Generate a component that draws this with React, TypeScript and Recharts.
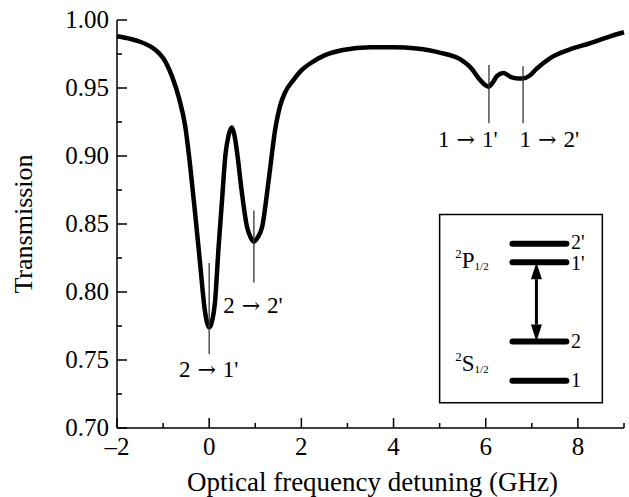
import React from "react";
import { LineChart, Line, XAxis, YAxis, ReferenceLine, ReferenceArea, ReferenceDot } from "recharts";

// detuning (GHz) and transmission
const freq = [-2.0, -1.7, -1.5, -1.25, -1.1, -1.0, -0.9, -0.8, -0.65, -0.52, -0.41, -0.3, -0.2, -0.1, -0.05, 0, 0.05, 0.13, 0.2, 0.28, 0.35, 0.42, 0.49, 0.55, 0.6, 0.71, 0.82, 0.9, 0.97, 1.05, 1.15, 1.29, 1.43, 1.54, 1.65, 1.83, 2.0, 2.19, 2.5, 2.9, 3.5, 4.0, 4.5, 5.0, 5.45, 5.7, 5.85, 6.0, 6.06, 6.15, 6.25, 6.39, 6.55, 6.7, 6.8, 6.95, 7.1, 7.4, 7.8, 8.27, 8.7, 9.0];
const trans = [0.988, 0.986, 0.984, 0.98, 0.976, 0.972, 0.966, 0.958, 0.942, 0.922, 0.892, 0.856, 0.822, 0.788, 0.778, 0.774, 0.777, 0.794, 0.831, 0.868, 0.9, 0.915, 0.921, 0.915, 0.904, 0.873, 0.848, 0.84, 0.837, 0.84, 0.848, 0.882, 0.919, 0.937, 0.947, 0.956, 0.963, 0.968, 0.974, 0.978, 0.98, 0.98, 0.979, 0.976, 0.971, 0.964, 0.957, 0.952, 0.951, 0.954, 0.959, 0.961, 0.958, 0.957, 0.957, 0.959, 0.964, 0.972, 0.978, 0.983, 0.988, 0.991];

const xTicks = [-2, -1, 0, 1, 2, 3, 4, 5, 6, 7, 8, 9];
const yTicks = [0.7, 0.725, 0.75, 0.775, 0.8, 0.825, 0.85, 0.875, 0.9, 0.925, 0.95, 0.975, 1.0];

// transition markers
const markFreq = [0, 0.97, 6.07, 6.81];
const markTop = [0.8214, 0.86, 0.967, 0.966];
const markBottom = [0.7545, 0.807, 0.924, 0.924];
const markFrom = ["2", "2", "1", "1"];
const markTo = ["1'", "2'", "1'", "2'"];
const markTextFreq = [-0.01, 0.95, 5.61, 7.38];
const markTextT = [0.7376, 0.7846, 0.9069, 0.9069];

// level diagram inset
const insetFreq = [5.0, 8.53];
const insetT = [0.7185, 0.857];
const levelNames = ["2'", "1'", "2", "1"];
const levelT = [0.8354, 0.8219, 0.7636, 0.7347];
const levelLabelT = [0.8364, 0.8209, 0.7636, 0.7347];
const levelFreq = [6.58, 7.75];
const arrowFreq = 7.1;
const termFreq = 5.34;
const termT = [0.8175, 0.742];

const data = freq.map((f, i) => ({ f, t: trans[i] }));

const FONT = "'Liberation Serif', 'Times New Roman', serif";
const ARROW_FONT = "'DejaVu Serif', serif";

const isMajorX = (v: number) => Math.abs(v % 2) < 1e-6;
const isMajorY = (v: number) => Math.abs(Math.round(v * 20) - v * 20) < 1e-6;

const BottomTick = (props: any) => {
  const { x, y, payload } = props;
  const major = isMajorX(payload.value);
  return (
    <g>
      <line x1={x} x2={x} y1={y} y2={y - (major ? 10 : 5)} stroke="#000" strokeWidth={1.5} />
      {major && (
        <text x={x} y={y + 27} textAnchor="middle" fontSize={25} fontFamily={FONT} fill="#000">
          {payload.value < 0 ? "–" + Math.abs(payload.value) : payload.value}
        </text>
      )}
    </g>
  );
};

const TopTick = (props: any) => {
  const { x, y, payload } = props;
  const major = isMajorX(payload.value);
  return <line x1={x} x2={x} y1={y} y2={y + (major ? 10 : 5)} stroke="#000" strokeWidth={1.5} />;
};

const LeftTick = (props: any) => {
  const { x, y, payload } = props;
  const major = isMajorY(payload.value);
  return (
    <g>
      <line x1={x} x2={x + (major ? 10 : 5)} y1={y} y2={y} stroke="#000" strokeWidth={1.5} />
      {major && (
        <text x={x - 8} y={y} dy="0.33em" textAnchor="end" fontSize={25} fontFamily={FONT} fill="#000">
          {payload.value.toFixed(2)}
        </text>
      )}
    </g>
  );
};

const RightTick = (props: any) => {
  const { x, y, payload } = props;
  const major = isMajorY(payload.value);
  return <line x1={x} x2={x - (major ? 10 : 5)} y1={y} y2={y} stroke="#000" strokeWidth={1.5} />;
};

const DoubleArrow = (props: any) => {
  const { x1, y1, x2, y2 } = props;
  const top = Math.min(y1, y2);
  const bot = Math.max(y1, y2);
  const h = 17;
  const w = 5.5;
  return (
    <g>
      <line x1={x1} x2={x2} y1={top + h} y2={bot - h} stroke="#000" strokeWidth={3} />
      <polygon points={`${x1},${top} ${x1 - w},${top + h} ${x1 + w},${top + h}`} fill="#000" />
      <polygon points={`${x1},${bot} ${x1 - w},${bot - h} ${x1 + w},${bot - h}`} fill="#000" />
    </g>
  );
};

const transitionShape = (from: string, to: string) => (props: any) => (
  <text x={props.cx} y={props.cy} textAnchor="middle" fontSize={23} fontFamily={FONT} fill="#000">
    {from}
    <tspan fontFamily={ARROW_FONT} fontSize={22}> → </tspan>
    {to}
  </text>
);

const levelLabel = (txt: string) => (props: any) => (
  <text x={props.cx} y={props.cy} dy="0.33em" fontSize={20} fontFamily={FONT} fill="#000">
    {txt}
  </text>
);

const termShape = (letter: string) => (props: any) => (
  <text x={props.cx} y={props.cy} fontFamily={FONT} fill="#000">
    <tspan fontSize={13} dy={-10}>2</tspan>
    <tspan fontSize={23} dy={10}>{letter}</tspan>
    <tspan fontSize={11} dy={2}>1/2</tspan>
  </text>
);

export default function App() {
  return (
    <div style={{ position: "absolute", left: 0, top: 0, background: "#fff" }}>
      <LineChart width={629} height={497} data={data} margin={{ top: 20, right: 5, bottom: 29, left: 0 }}>
        <XAxis
          xAxisId="b"
          dataKey="f"
          type="number"
          domain={[-2, 9]}
          ticks={xTicks}
          interval={0}
          tickSize={0}
          tickMargin={0}
          tick={<BottomTick />}
          height={40}
          axisLine={{ stroke: "#000", strokeWidth: 1.5 }}
          label={(p: any) => {
            const vb = p.viewBox;
            return (
              <text x={vb.x + vb.width / 2 + 2} y={491} textAnchor="middle" fontSize={27} fontFamily={FONT} fill="#000">
                Optical frequency detuning (GHz)
              </text>
            );
          }}
        />
        <XAxis
          xAxisId="t"
          orientation="top"
          type="number"
          dataKey="f"
          domain={[-2, 9]}
          ticks={xTicks}
          interval={0}
          tickSize={0}
          tickMargin={0}
          tick={<TopTick />}
          height={0}
          axisLine={{ stroke: "#000", strokeWidth: 1.5 }}
        />
        <YAxis
          yAxisId="l"
          type="number"
          domain={[0.7, 1.0]}
          ticks={yTicks}
          interval={0}
          tickSize={0}
          tickMargin={0}
          tick={<LeftTick />}
          width={117}
          axisLine={{ stroke: "#000", strokeWidth: 1.5 }}
          label={(p: any) => {
            const vb = p.viewBox;
            const cy = vb.y + vb.height / 2;
            return (
              <text x={23} y={cy} transform={`rotate(-90, 23, ${cy})`} dy="0.33em" textAnchor="middle" fontSize={26} fontFamily={FONT} fill="#000">
                Transmission
              </text>
            );
          }}
        />
        <YAxis
          yAxisId="r"
          orientation="right"
          type="number"
          domain={[0.7, 1.0]}
          ticks={yTicks}
          interval={0}
          tickSize={0}
          tickMargin={0}
          tick={<RightTick />}
          width={0}
          axisLine={{ stroke: "#000", strokeWidth: 1.5 }}
        />
        <Line
          xAxisId="b"
          yAxisId="l"
          type="monotone"
          dataKey="t"
          stroke="#000"
          strokeWidth={4.5}
          dot={false}
          isAnimationActive={false}
        />
        {markFreq.map((f, i) => (
          <ReferenceLine
            key={"m" + i}
            xAxisId="b"
            yAxisId="l"
            segment={[{ x: f, y: markBottom[i] }, { x: f, y: markTop[i] }]}
            stroke="#333"
            strokeWidth={1.3}
          />
        ))}
        {markFrom.map((from, i) => (
          <ReferenceDot
            key={"mt" + i}
            xAxisId="b"
            yAxisId="l"
            x={markTextFreq[i]}
            y={markTextT[i]}
            shape={transitionShape(from, markTo[i])}
          />
        ))}
        <ReferenceArea
          xAxisId="b"
          yAxisId="l"
          x1={insetFreq[0]}
          x2={insetFreq[1]}
          y1={insetT[0]}
          y2={insetT[1]}
          fill="#fff"
          fillOpacity={1}
          stroke="#000"
          strokeWidth={1.5}
        />
        {levelT.map((t, i) => (
          <ReferenceLine
            key={"l" + i}
            xAxisId="b"
            yAxisId="l"
            segment={[{ x: levelFreq[0], y: t }, { x: levelFreq[1], y: t }]}
            stroke="#000"
            strokeWidth={6}
            strokeLinecap="round"
          />
        ))}
        {levelNames.map((n, i) => (
          <ReferenceDot
            key={"ln" + i}
            xAxisId="b"
            yAxisId="l"
            x={levelFreq[1] + 0.1}
            y={levelLabelT[i]}
            shape={levelLabel(n)}
          />
        ))}
        <ReferenceLine
          xAxisId="b"
          yAxisId="l"
          segment={[{ x: arrowFreq, y: levelT[1] }, { x: arrowFreq, y: levelT[2] }]}
          shape={<DoubleArrow />}
        />
        <ReferenceDot xAxisId="b" yAxisId="l" x={termFreq} y={termT[0]} shape={termShape("P")} />
        <ReferenceDot xAxisId="b" yAxisId="l" x={termFreq} y={termT[1]} shape={termShape("S")} />
      </LineChart>
    </div>
  );
}
